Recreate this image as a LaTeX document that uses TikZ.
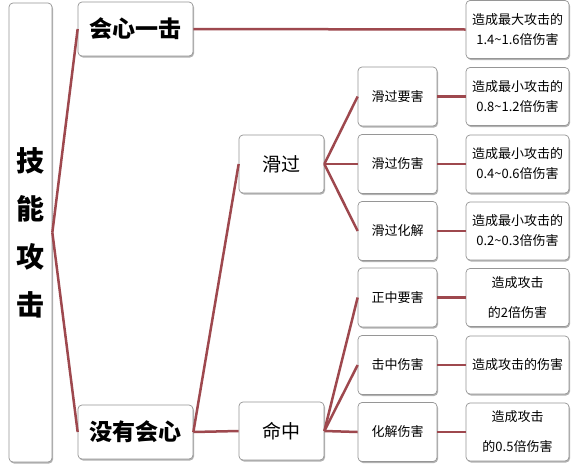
\documentclass[tikz,border=0pt]{standalone}
\usepackage{fontspec}
\setmainfont{Noto Sans CJK SC}
\usetikzlibrary{shadows}
\definecolor{linkc}{RGB}{158,72,78}
\definecolor{boxc}{RGB}{150,150,150}
\newcommand\tld{\string~}
\tikzset{
  box/.style={draw=boxc, line width=0.7pt, fill=white, rounded corners=4pt,
    align=center, inner sep=0pt,
    drop shadow={shadow xshift=1pt, shadow yshift=-1.5pt, opacity=0.3, fill=black}},
  link/.style={draw=linkc, line width=2.5pt},
  rootbox/.style={box, minimum width=43pt, minimum height=459pt, font=\bfseries\fontsize{28}{48}\selectfont},
  lone/.style={box, minimum width=115pt, minimum height=54pt, font=\bfseries\fontsize{23}{28}\selectfont},
  ltwo/.style={box, minimum width=85pt, minimum height=58pt, font=\fontsize{19}{24}\selectfont},
  lthree/.style={box, minimum width=79pt, minimum height=59pt, font=\fontsize{13}{20}\selectfont},
  lfour/.style={box, minimum width=103pt, minimum height=58pt, font=\fontsize{13}{20}\selectfont},
  lfourb/.style={box, minimum width=103pt, minimum height=58pt, font=\fontsize{13}{30}\selectfont},
}
\begin{document}
\begin{tikzpicture}[x=1pt,y=-1pt]
\useasboundingbox[fill=white] (0,0) rectangle (579,469);
\node[rootbox] (root) at (30.5,232.5) {技\\能\\攻\\击};
\node[lone] (hx) at (135.5,29) {会心一击};
\node[lone] (my) at (135.5,432) {没有会心};
\node[ltwo] (hg) at (281.5,164) {滑过};
\node[ltwo] (mz) at (281.5,431) {命中};
\node[lthree] (a1) at (397.5,96.5) {滑过要害};
\node[lthree] (a2) at (397.5,164) {滑过伤害};
\node[lthree] (a3) at (397.5,231) {滑过化解};
\node[lthree] (b1) at (397.5,297.5) {正中要害};
\node[lthree] (b2) at (397.5,365) {击中伤害};
\node[lthree] (b3) at (397.5,432) {化解伤害};
\node[lfour] (r0) at (517.5,29.5) {造成最大攻击的\\1.4\tld 1.6倍伤害};
\node[lfour] (r1) at (517.5,96.5) {造成最小攻击的\\0.8\tld 1.2倍伤害};
\node[lfour] (r2) at (517.5,164) {造成最小攻击的\\0.4\tld 0.6倍伤害};
\node[lfour] (r3) at (517.5,231) {造成最小攻击的\\0.2\tld 0.3倍伤害};
\node[lfourb] (s1) at (517.5,297.5) {造成攻击\\的2倍伤害};
\node[lfour] (s2) at (517.5,365) {造成攻击的伤害};
\node[lfourb] (s3) at (517.5,432) {造成攻击\\的0.5倍伤害};
\begin{scope}[on background layer/.style={}]
\draw[link] (root.east) -- (hx.west);
\draw[link] (root.east) -- (my.west);
\draw[link] (hx.east) -- (r0.west);
\draw[link] (my.east) -- (hg.west);
\draw[link] (my.east) -- (mz.west);
\draw[link] (hg.east) -- (a1.west);
\draw[link] (hg.east) -- (a2.west);
\draw[link] (hg.east) -- (a3.west);
\draw[link] (mz.east) -- (b1.west);
\draw[link] (mz.east) -- (b2.west);
\draw[link] (mz.east) -- (b3.west);
\draw[link] (a1) -- (r1);
\draw[link] (a2) -- (r2);
\draw[link] (a3) -- (r3);
\draw[link] (b1) -- (s1);
\draw[link] (b2) -- (s2);
\draw[link] (b3) -- (s3);
\end{scope}
\end{tikzpicture}
\end{document}
